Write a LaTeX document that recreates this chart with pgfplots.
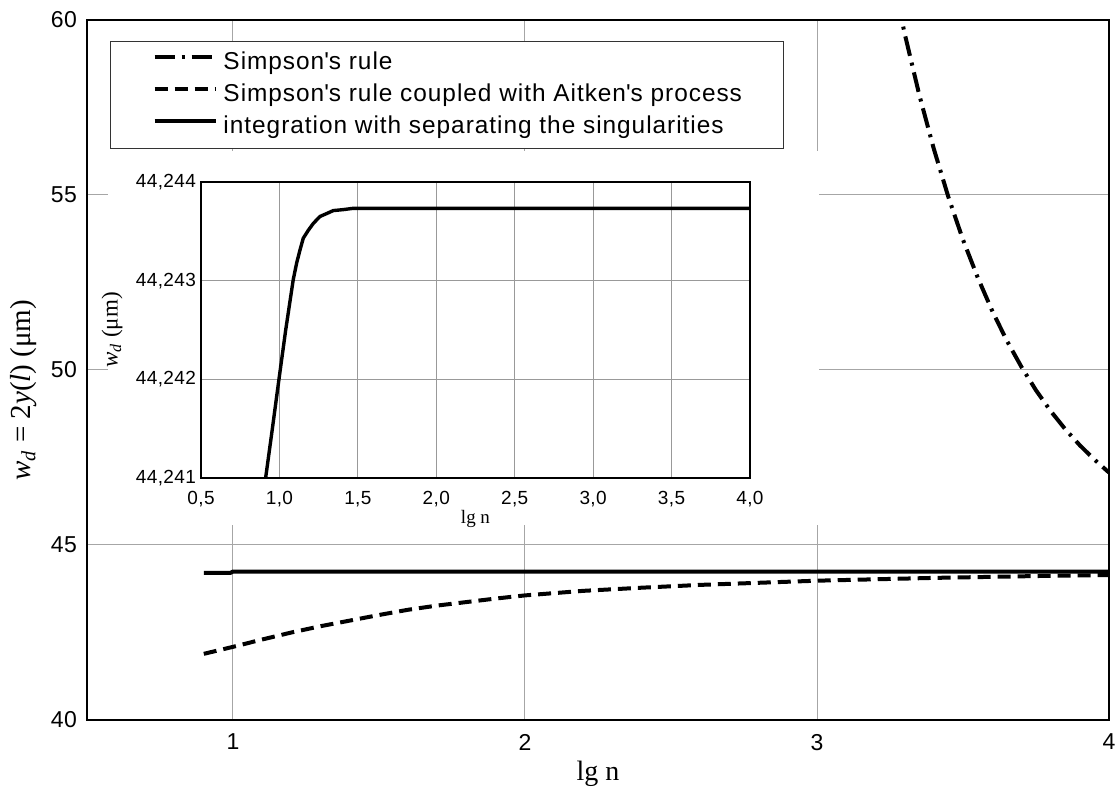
\documentclass[border=0pt]{standalone}
\usepackage{fontspec}
\setmainfont{Liberation Sans}[LetterSpace=2]
\newfontfamily\legfont{Liberation Sans}[LetterSpace=4]
\newfontfamily\tnr{Liberation Serif}
\usepackage{pgfplots}
\pgfplotsset{compat=1.18}

\begin{document}
\begin{tikzpicture}
\begin{axis}[
  at={(0pt,0pt)}, anchor=south west,
  scale only axis, width=511pt, height=350pt,
  xmin=0.5, xmax=4, ymin=40, ymax=60,
  xtick={1,2,3,4}, ytick={40,45,50,55,60},
  grid=major, major grid style={black!35, line width=0.5pt},
  major tick length=0pt,
  axis line style={line width=1.1pt},
  /pgf/number format/assume math mode=true,
  tick label style={font=\fontsize{11.5}{13}\selectfont},
  xticklabel style={yshift=-3.5pt},
  yticklabel style={xshift=-1.5pt},
  xlabel={\tnr lg n},
  xlabel style={font=\fontsize{14}{16}\selectfont, at={(axis description cs:0.5,-0.077)}, anchor=center},
  ylabel={\tnr\textit{w}\textsubscript{\textit{d}} = 2\textit{y}(\textit{l}) (μm)},
  ylabel style={font=\fontsize{14.5}{16}\selectfont, at={(axis description cs:-0.0616,0.471)}, anchor=center},
  legend cell align=left,
  legend style={at={(axis description cs:0.0225,0.97)}, anchor=north west,
    draw=black!80, line width=0.5pt, fill=white,
    font=\legfont\fontsize{12.2}{14}\selectfont,
    inner xsep=21pt, inner ysep=4.85pt, row sep=4.2pt, column sep=3pt,
    nodes={inner sep=0pt, text height=9.2pt, text depth=2.6pt}},
  legend image code/.code={\draw[#1] (0pt,3.2pt) -- (30.5pt,3.2pt);},
]
\addplot[black, line width=2pt, dash pattern=on 10pt off 3.5pt on 1.5pt off 3.5pt] coordinates {
(3.25,61.60) (3.30,59.62) (3.35,57.87) (3.40,56.32) (3.45,54.94) (3.50,53.72)
(3.55,52.65) (3.60,51.69) (3.65,50.84) (3.70,50.09) (3.75,49.42) (3.80,48.83)
(3.85,48.31) (3.90,47.85) (3.95,47.44) (4.00,47.07)};
\addlegendentry{\makebox[259pt][l]{Simpson\textquotesingle s rule}}
\addplot[black, line width=2pt, dash pattern=on 6.5pt off 3.5pt] coordinates {
(0.9,41.89) (1.0,42.09) (1.1,42.30) (1.2,42.50) (1.3,42.68) (1.4,42.84)
(1.5,43.00) (1.6,43.15) (1.7,43.27) (1.8,43.37) (1.9,43.47) (2.0,43.56)
(2.2,43.69) (2.4,43.78) (2.6,43.86) (2.8,43.92) (3.0,43.98) (3.2,44.02)
(3.4,44.06) (3.6,44.09) (3.8,44.12) (4.0,44.14)};
\addlegendentry{\makebox[259pt][l]{Simpson\textquotesingle s rule coupled with Aitken\textquotesingle s process}}
\addplot[black, line width=2pt] coordinates {
(0.9,44.20) (0.99,44.20) (1.0,44.24) (4.0,44.24)};
\addlegendentry{\makebox[259pt][l]{integration with separating the singularities}}
\end{axis}

\fill[white] (10.5pt,97.5pt) rectangle (366pt,284.5pt);

\begin{axis}[
  at={(57pt,121pt)}, anchor=south west,
  scale only axis, width=274.5pt, height=148pt,
  xmin=0.5, xmax=4, ymin=0, ymax=3,
  xtick={0.5,1,1.5,2,2.5,3,3.5,4},
  xticklabels={{0,5},{1,0},{1,5},{2,0},{2,5},{3,0},{3,5},{4,0}},
  ytick={0,1,2,3},
  yticklabels={{44,241},{44,242},{44,243},{44,244}},
  grid=major, major grid style={black!40, line width=0.6pt},
  major tick length=0pt,
  axis line style={line width=0.7pt},
  axis background/.style={fill=white},
  tick label style={font=\fontsize{9.5}{11}\selectfont},
  xticklabel style={yshift=-3pt},
  yticklabel style={xshift=1pt},
  xlabel={\tnr lg n},
  xlabel style={font=\fontsize{9.5}{11}\selectfont, at={(axis description cs:0.5,-0.1385)}, anchor=center},
  ylabel={\tnr\textit{w}\textsubscript{\textit{d}} (μm)},
  ylabel style={font=\fontsize{11.5}{13}\selectfont, at={(axis description cs:-0.162,0.5)}, anchor=center},
]
\addplot[black, line width=1.7pt] coordinates {
(0.90,-0.14) (0.912,0) (0.955,0.5) (0.997,1.0) (1.04,1.5) (1.088,2.01)
(1.11,2.18) (1.131,2.31) (1.152,2.43) (1.184,2.51) (1.216,2.58) (1.258,2.65)
(1.301,2.68) (1.343,2.71) (1.407,2.72) (1.47,2.733) (4.0,2.733)};
\end{axis}

\pgfresetboundingbox
\useasboundingbox (-43.5pt,-35.5pt) rectangle (514pt,360pt);
\end{tikzpicture}
\end{document}
